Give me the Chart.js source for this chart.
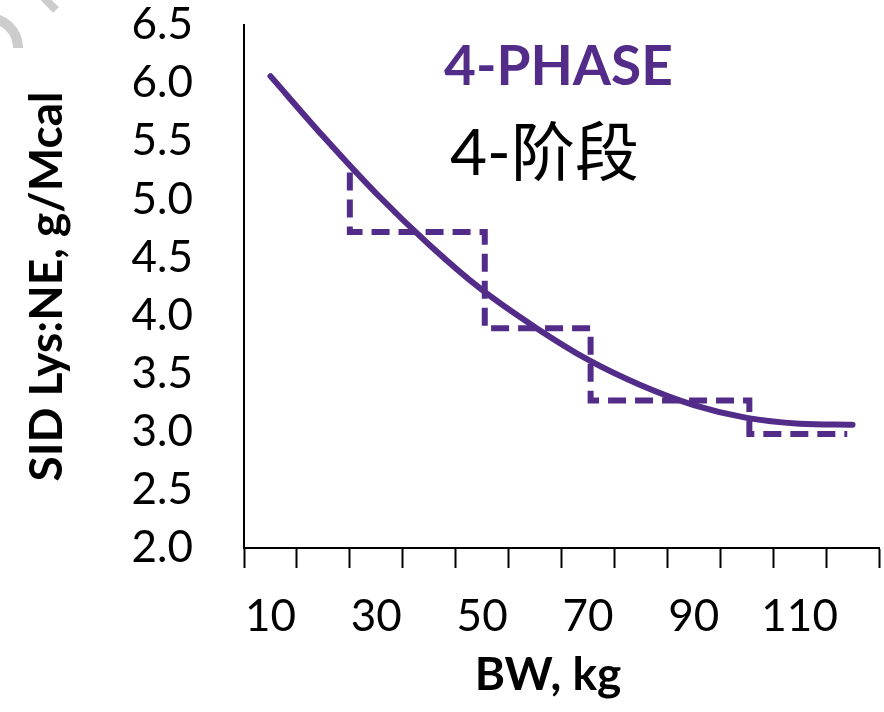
<!DOCTYPE html>
<html>
<head>
<meta charset="utf-8">
<script src="https://cdn.jsdelivr.net/npm/chart.js@4.4.0/dist/chart.umd.min.js"></script>
<style>
html, body { margin: 0; padding: 0; background: #fff; }
#wrap { width: 884px; height: 712px; }
</style>
</head>
<body>
<div id="wrap"><canvas id="lys-chart" width="884" height="712"></canvas></div>
<script>
// body weight (kg) and SID Lys:NE requirement curve
var bw = [10, 20, 30, 40, 50, 60, 70, 80, 90, 100, 110, 120];
var lysCurve = [6.06, 5.54, 5.05, 4.61, 4.22, 3.90, 3.62, 3.40, 3.23, 3.12, 3.07, 3.06];

// 4-phase feeding program (step line corners)
var phaseBW = [25, 25, 50.5, 70.5, 100.5, 119];
var phaseLys = [5.23, 4.72, 3.89, 3.27, 2.98, 2.98];

// axis ticks
var xLabels = [10, 30, 50, 70, 90, 110];
var xTickMarks = [5, 15, 25, 35, 45, 55, 65, 75, 85, 95, 105, 115, 125];
var yTicks = [2.0, 2.5, 3.0, 3.5, 4.0, 4.5, 5.0, 5.5, 6.0, 6.5];

var purple = '#532c8a';

function toPoints(xs, ys) {
  var pts = [];
  for (var i = 0; i < xs.length; i++) pts.push({x: xs[i], y: ys[i]});
  return pts;
}

// annotation text, x title and the scrap of logo in the corner
var overlay = {
  id: 'overlay',
  afterDraw: function(chart) {
    var ctx = chart.ctx;
    ctx.save();
    ctx.strokeStyle = '#cccccc';
    ctx.lineWidth = 10;
    ctx.beginPath();
    ctx.arc(-12, 48, 30, -1.6, 0);
    ctx.stroke();
    ctx.lineWidth = 8;
    ctx.beginPath();
    ctx.moveTo(44, -2);
    ctx.lineTo(56, 10);
    ctx.stroke();

    ctx.textAlign = 'left';
    ctx.textBaseline = 'alphabetic';
    ctx.fillStyle = purple;
    ctx.font = 'bold 55px Lato';
    ctx.fillText('4-PHASE', 444, 85);
    ctx.fillStyle = '#000';
    ctx.font = '64px Lato, "Noto Sans CJK SC"';
    ctx.fillText('4-阶段', 450, 175);

    ctx.textAlign = 'center';
    ctx.font = 'bold 46px Lato';
    ctx.fillText('BW, kg', 548, 690);
    ctx.restore();
  }
};

var lc = document.getElementById('lys-chart').getContext('2d');
var lysChart = new Chart(lc, {
  type: 'line',
  data: {
    datasets: [{
      label: 'SID Lys:NE',
      data: toPoints(bw, lysCurve),
      borderColor: purple,
      borderWidth: 6,
      borderCapStyle: 'round',
      borderJoinStyle: 'round',
      cubicInterpolationMode: 'monotone',
      pointRadius: 0,
      fill: false
    }, {
      label: '4-phase',
      data: toPoints(phaseBW, phaseLys),
      borderColor: purple,
      borderWidth: 6,
      borderDash: [18, 9],
      stepped: 'before',
      pointRadius: 0,
      fill: false
    }]
  },
  options: {
    responsive: false,
    animation: false,
    layout: { padding: { left: 0, top: 25, right: 5, bottom: 0 } },
    plugins: {
      legend: { display: false },
      tooltip: { enabled: false }
    },
    scales: {
      x: {
        type: 'linear',
        min: 5,
        max: 125,
        afterBuildTicks: function(scale) {
          var vals = xTickMarks.concat(xLabels).sort(function(a, b) { return a - b; });
          scale.ticks = vals.map(function(v) { return {value: v}; });
        },
        afterFit: function(scale) {
          scale.height = 164;
          scale.paddingLeft = 0;
          scale.paddingRight = 0;
        },
        grid: {
          drawOnChartArea: false,
          tickLength: 20,
          tickWidth: 2,
          tickColor: function(ctx) {
            return xTickMarks.indexOf(ctx.tick.value) >= 0 ? '#000' : 'rgba(0,0,0,0)';
          }
        },
        border: { display: true, color: '#000', width: 2 },
        ticks: {
          autoSkip: false,
          maxRotation: 0,
          padding: 22,
          color: '#000',
          font: { family: 'Lato', size: 44 },
          callback: function(v) { return xLabels.indexOf(v) >= 0 ? String(v) : ''; }
        },
        title: { display: false }
      },
      y: {
        min: 2,
        max: 6.5,
        afterBuildTicks: function(scale) {
          scale.ticks = yTicks.map(function(v) { return {value: v}; });
        },
        afterFit: function(scale) {
          scale.width = 244;
          scale.paddingTop = 0;
          scale.paddingBottom = 0;
        },
        grid: { drawOnChartArea: false, drawTicks: false },
        border: { display: true, color: '#000', width: 2 },
        ticks: {
          autoSkip: false,
          padding: 51,
          color: '#000',
          font: { family: 'Lato', size: 44 },
          callback: function(v) { return v.toFixed(1); }
        },
        title: {
          display: true,
          text: 'SID Lys:NE, g/Mcal',
          color: '#000',
          font: { family: 'Lato', size: 46, weight: 'bold' },
          padding: { top: 20, bottom: 0 }
        }
      }
    }
  },
  plugins: [overlay]
});
</script>
</body>
</html>
